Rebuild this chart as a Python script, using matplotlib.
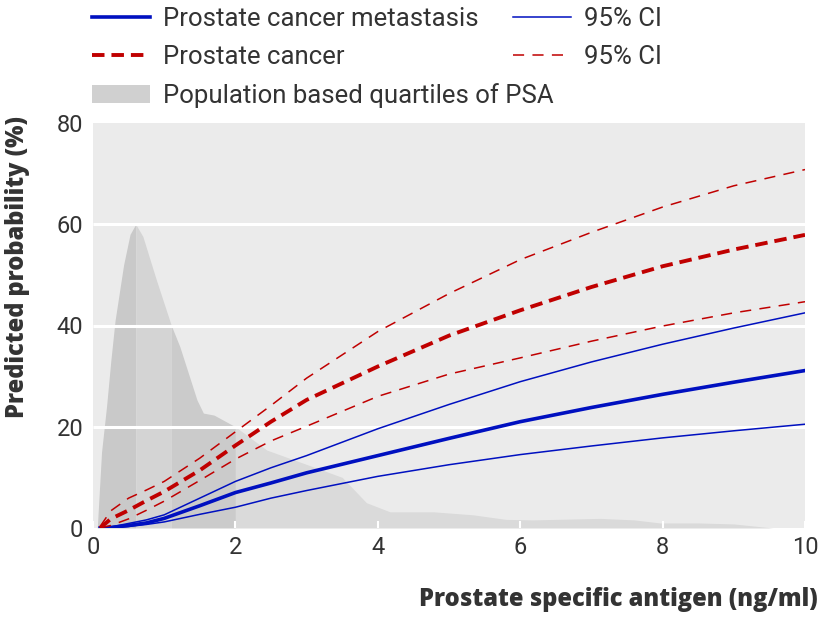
import numpy as np
import matplotlib
matplotlib.use('Agg')
import matplotlib.pyplot as plt
from matplotlib.lines import Line2D
from matplotlib.patches import Patch

plt.rcParams['font.family'] = ['Roboto', 'DejaVu Sans']
plt.rcParams['lines.scale_dashes'] = False

# PSA (ng/ml) where the curves were read
psa = [0.1, 0.25, 0.5, 0.75, 1, 1.5, 2, 2.5, 3, 4, 5, 6, 7, 8, 9, 10]

# prostate cancer metastasis, predicted probability (%) and 95% CI
met = [0.0, 0.1, 0.5, 1.0, 1.9, 4.4, 7.0, 8.9, 10.9, 14.3, 17.7, 21.0, 23.8, 26.4, 28.8, 31.1]
met_hi = [0.0, 0.2, 0.9, 1.6, 2.6, 5.9, 9.2, 11.9, 14.3, 19.6, 24.4, 28.9, 32.8, 36.3, 39.5, 42.5]
met_lo = [0.0, 0.05, 0.3, 0.7, 1.2, 2.7, 4.1, 5.9, 7.4, 10.2, 12.5, 14.5, 16.2, 17.8, 19.2, 20.5]

# prostate cancer, predicted probability (%) and 95% CI
pc = [0.0, 1.8, 3.5, 5.4, 7.2, 11.4, 16.3, 21.0, 25.3, 31.9, 38.0, 43.0, 47.6, 51.7, 55.0, 57.9]
pc_hi = [0.3, 3.4, 5.9, 7.5, 9.2, 13.8, 19.0, 24.2, 29.6, 38.8, 46.3, 53.0, 58.4, 63.4, 67.6, 70.8]
pc_lo = [0.0, 0.5, 1.8, 3.5, 5.3, 9.4, 13.6, 17.2, 20.1, 26.0, 30.4, 33.6, 36.9, 39.9, 42.5, 44.7]

# population distribution of PSA (scaled to the y axis)
dens_x = [0.06, 0.12, 0.19, 0.25, 0.31, 0.43, 0.52, 0.6, 0.7, 0.89, 1.1, 1.22, 1.46,
          1.55, 1.7, 2.0, 2.44, 3.09, 3.5, 3.84, 4.17, 4.78, 5.34, 5.8, 6.18, 7.12,
          7.6, 7.96, 8.5, 9.0, 9.55, 10.0]
dens_y = [0, 15, 24, 33, 41, 52, 58, 60, 57.6, 49, 40, 35.8, 25.3,
          22.7, 22.3, 20, 15.4, 12.1, 10, 5, 3.2, 3.2, 2.6, 1.7, 1.6, 1.9,
          1.6, 1.0, 1.0, 0.8, 0, 0]
quartile_edges = [0.06, 0.6, 1.1, 2.0, 10.0]
quartile_colors = ['#c9c9c9', '#d4d4d4', '#cbcbcb', '#dadada']

grid_y = [20, 40, 60]

blue = '#0010c0'
red = '#c00000'
txt = '#333333'

fig = plt.figure(figsize=(8.2, 6.2), dpi=100)
ax = fig.add_axes([93 / 820, 1 - 528 / 620, 712 / 820, 405 / 620])
ax.set_facecolor('#ebebeb')

# density split into quartiles
dx = np.array(dens_x)
dy = np.array(dens_y)
for i in range(4):
    sel = (dx >= quartile_edges[i]) & (dx <= quartile_edges[i + 1])
    ax.fill_between(dx, dy, where=sel, color=quartile_colors[i], lw=0, zorder=1)

ax.hlines(grid_y, 0, 10, color='white', lw=2.2, zorder=2)

ax.plot(psa, met_hi, color=blue, lw=1.1, zorder=3)
ax.plot(psa, met_lo, color=blue, lw=1.1, zorder=3)
ax.plot(psa, met, color=blue, lw=2.6, zorder=3)
ax.plot(psa, pc_hi, color=red, lw=1.1, dashes=(8, 6), zorder=3)
ax.plot(psa, pc_lo, color=red, lw=1.1, dashes=(8, 6), zorder=3)
ax.plot(psa, pc, color=red, lw=2.8, dashes=(9, 5), zorder=3)

ax.set_xlim(0, 10)
ax.set_ylim(0, 80)
ax.set_xticks([0, 2, 4, 6, 8, 10])
ax.set_yticks([0, 20, 40, 60, 80])
for s in ax.spines.values():
    s.set_visible(False)
ax.tick_params(axis='x', direction='in', length=5, width=1.5, color='white',
               pad=6, labelsize=17, labelcolor=txt)
ax.tick_params(axis='y', length=0, pad=7, labelsize=17, labelcolor=txt)

lab_font = dict(family=['Open Sans', 'DejaVu Sans'], size=17, weight='heavy', color=txt)
ax.set_xlabel('Prostate specific antigen (ng/ml)', loc='right', **lab_font)
ax.xaxis.set_label_coords(1.018, -0.145)
ax.set_ylabel('Predicted probability (%)', loc='top', **lab_font)
ax.yaxis.set_label_coords(-0.088, 1.017)

# legend
h1 = [Line2D([], [], color=blue, lw=2.6),
      Line2D([], [], color=red, lw=2.8, dashes=(9, 5)),
      Patch(facecolor='#d0d0d0', lw=0)]
l1 = ['Prostate cancer metastasis', 'Prostate cancer', 'Population based quartiles of PSA']
h2 = [Line2D([], [], color=blue, lw=1.1),
      Line2D([], [], color=red, lw=1.1, dashes=(8, 6))]
l2 = ['95% CI', '95% CI']
opts = dict(loc='upper left', frameon=False, handlelength=2.25,
            handletextpad=0.5, labelspacing=0.55, borderpad=0, borderaxespad=0,
            labelcolor=txt, prop={'size': 18.5})
leg1 = fig.legend(h1, l1, bbox_to_anchor=(92 / 820, 1 - 7 / 620), **opts)
leg2 = fig.legend(h2, l2, bbox_to_anchor=(513 / 820, 1 - 7 / 620), **opts)

fig.savefig('out.png', dpi=100)
